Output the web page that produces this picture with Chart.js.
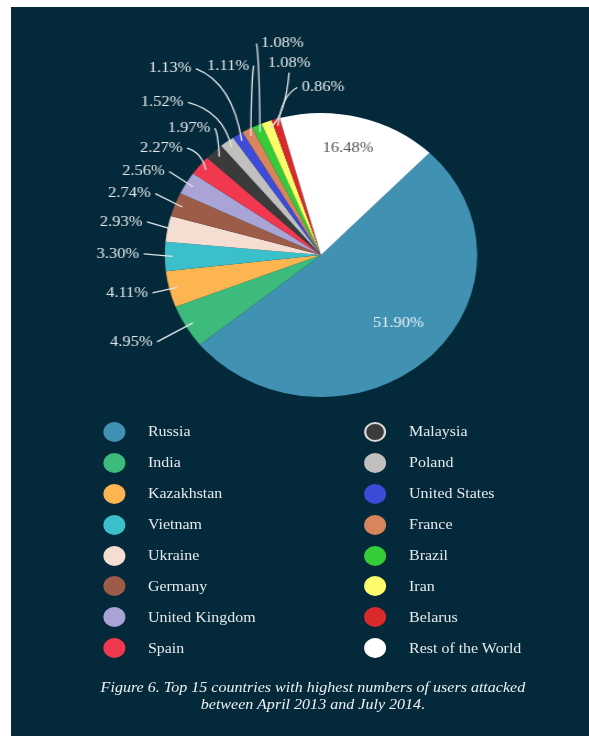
<!DOCTYPE html>
<html>
<head>
<meta charset="utf-8">
<script src="https://cdn.jsdelivr.net/npm/chart.js@4.4.1/dist/chart.umd.min.js"></script>
<style>
  body { margin: 0; width: 589px; height: 736px; overflow: hidden; background: #fff; }
  #panel { position: absolute; left: 11px; top: 7px; right: 0; bottom: 0; background: #03293a; }
  /* the whole figure is drawn a little wider than tall */
  #stage { position: absolute; left: 0; top: 0; width: 536px; height: 736px;
           transform: scaleX(1.1); transform-origin: 0 0; }
  #pie { position: absolute; left: 0; top: 0; }
  #legend { position: absolute; left: 0; top: 416.5px; padding-left: 93.6px;
            display: grid; grid-auto-flow: column;
            grid-template-rows: repeat(8, 30.9px); grid-template-columns: 237.4px auto;
            font: 14.5px "Liberation Serif", "Times New Roman", serif; color: #e6eaec; }
  .item { display: flex; align-items: center; }
  .dot { width: 20px; height: 20px; border-radius: 50%; margin-right: 20.9px; box-sizing: border-box; }
  #caption { position: absolute; left: 0; top: 678.5px; width: 569px; margin: 0;
             text-align: center; line-height: 17px; color: #eef2f4;
             font: italic 14.6px "Liberation Serif", "Times New Roman", serif; }
</style>
</head>
<body>
<div id="panel"></div>
<div id="stage">
  <canvas id="pie" width="536" height="410"></canvas>
  <div id="legend"></div>
  <p id="caption">Figure 6. Top 15 countries with highest numbers of users attacked<br>between April 2013 and July 2014.</p>
</div>
<script>
// share of attacked users per country, in percent
const countries = ['Russia', 'India', 'Kazakhstan', 'Vietnam', 'Ukraine', 'Germany',
    'United Kingdom', 'Spain', 'Malaysia', 'Poland', 'United States', 'France',
    'Brazil', 'Iran', 'Belarus', 'Rest of the World'];
const shares = [51.90, 4.95, 4.11, 3.30, 2.93, 2.74, 2.56, 2.27, 1.97, 1.52, 1.13, 1.11,
    1.08, 1.08, 0.86, 16.48];
const colours = ['#4192b2', '#3dbb7c', '#fdb552', '#3bbfca', '#f6ddd2', '#9c5c48',
    '#aaa4d6', '#f2384f', '#3b3b3b', '#c2c0bf', '#3c4bd8', '#d8845c',
    '#35cc38', '#fdfc6a', '#d8292b', '#ffffff'];

// where each value label sits: [degrees turned from the slice middle, distance in radii]
// (under 1 = inside the slice, no leader line)
const labelSpots = [[-3.4, 0.69], [3.5, 1.36], [1.8, 1.27], [0.9, 1.30], [-0.3, 1.30],
    [-1.4, 1.30], [-3.0, 1.28], [-2.75, 1.27], [-0.1, 1.23], [-6.4, 1.48], [-4.1, 1.63],
    [4.2, 1.46], [14.8, 1.51], [11.8, 1.37], [17.5, 1.18], [-1.3, 0.77]];

function luma(hex) {
    const n = parseInt(hex.slice(1), 16);
    const r = n >> 16, g = (n >> 8) & 255, b = n & 255;
    return 0.299 * r + 0.587 * g + 0.114 * b;
}

// value labels with curved leader lines
const outLabels = {
    id: 'outLabels',
    afterDatasetsDraw(chart) {
        const ctx = chart.ctx;
        const meta = chart.getDatasetMeta(0);
        ctx.save();
        ctx.font = '15px "Liberation Serif", "Times New Roman", serif';
        ctx.textAlign = 'center';
        ctx.textBaseline = 'middle';
        ctx.lineWidth = 1.3;
        ctx.strokeStyle = '#dfe4e6';
        meta.data.forEach(function (arc, i) {
            const p = arc.getProps(['x', 'y', 'startAngle', 'endAngle', 'outerRadius'], true);
            const mid = (p.startAngle + p.endAngle) / 2;
            const spot = labelSpots[i];
            const a = mid + spot[0] * Math.PI / 180;
            const lx = p.x + Math.cos(a) * p.outerRadius * spot[1];
            const ly = p.y + Math.sin(a) * p.outerRadius * spot[1];
            const text = shares[i].toFixed(2) + '%';

            if (spot[1] < 1) {
                ctx.fillStyle = luma(colours[i]) > 200 ? '#555555' : '#e6f2f7';
                ctx.fillText(text, lx, ly);
                return;
            }

            const ex = p.x + Math.cos(mid) * p.outerRadius * 0.95;
            const ey = p.y + Math.sin(mid) * p.outerRadius * 0.95;
            const hw = ctx.measureText(text).width / 2;
            let sx, sy, k;
            if (lx - hw > ex) { sx = lx - hw - 4; sy = ly; k = 0.8; }
            else if (lx + hw < ex) { sx = lx + hw + 4; sy = ly; k = 0.8; }
            else { sx = lx; sy = ly + 10; k = 0.2; }
            if (Math.abs(ey - sy) < Math.abs(ex - sx)) k = 0.5;
            const cx = sx + (ex - sx) * k;
            const cy = sy + (ey - sy) * (1 - k);

            ctx.beginPath();
            ctx.moveTo(sx, sy);
            ctx.quadraticCurveTo(cx, cy, ex, ey);
            ctx.stroke();

            ctx.fillStyle = '#e6e9eb';
            ctx.fillText(text, lx, ly);
        });
        ctx.restore();
    }
};

const chart = new Chart(document.getElementById('pie'), {
    type: 'pie',
    data: {
        labels: countries,
        datasets: [{
            data: shares,
            backgroundColor: colours,
            borderWidth: 0
        }]
    },
    options: {
        responsive: false,
        animation: false,
        events: [],
        rotation: 44,
        layout: { padding: { left: 149.8, right: 102.2, top: 113, bottom: 13 } },
        plugins: {
            legend: { display: false },
            tooltip: { enabled: false }
        }
    },
    plugins: [outLabels]
});

// two-column legend below the pie
const legend = document.getElementById('legend');
chart.data.labels.forEach(function (name, i) {
    const item = document.createElement('div');
    item.className = 'item';
    const dot = document.createElement('span');
    dot.className = 'dot';
    const c = chart.data.datasets[0].backgroundColor[i];
    dot.style.background = c;
    // very dark swatches get a light ring so they show on the panel
    if (luma(c) < 80) dot.style.border = '2px solid #d8d8d8';
    const label = document.createElement('span');
    label.textContent = name;
    item.appendChild(dot);
    item.appendChild(label);
    legend.appendChild(item);
});
</script>
</body>
</html>
